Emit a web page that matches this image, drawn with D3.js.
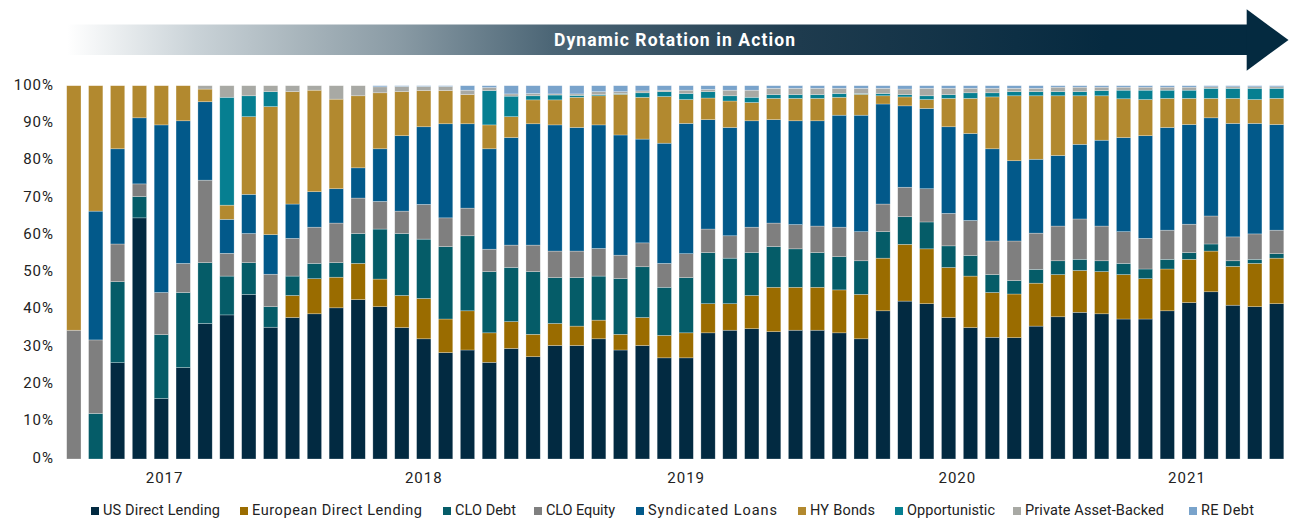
<!DOCTYPE html>
<html lang="en">
<head>
  <meta charset="utf-8">
  <title>Dynamic Rotation in Action</title>
  <script src="https://cdn.jsdelivr.net/npm/d3@7"></script>
  <style>
    body { margin: 0; background: #fff; }
    svg text { font-family: Roboto, "Open Sans", sans-serif; }
  </style>
</head>
<body>
  <svg id="chart" width="1295" height="519"></svg>

  <script>
    // monthly periods, Jan 2017 - Aug 2021
    const months = [
      "2017-01","2017-02","2017-03","2017-04","2017-05","2017-06","2017-07","2017-08","2017-09","2017-10","2017-11","2017-12",
      "2018-01","2018-02","2018-03","2018-04","2018-05","2018-06","2018-07","2018-08","2018-09","2018-10","2018-11","2018-12",
      "2019-01","2019-02","2019-03","2019-04","2019-05","2019-06","2019-07","2019-08","2019-09","2019-10","2019-11","2019-12",
      "2020-01","2020-02","2020-03","2020-04","2020-05","2020-06","2020-07","2020-08","2020-09","2020-10","2020-11","2020-12",
      "2021-01","2021-02","2021-03","2021-04","2021-05","2021-06","2021-07","2021-08"
    ]

    // allocation (%) per strategy
    const usDirect = [0,0,25.8,64.6,16.2,24.5,36.3,38.6,44.1,35.3,37.9,38.9,40.5,
      42.7,40.8,35.2,32.2,28.5,29.2,25.9,29.6,27.4,30.4,30.4,32.2,29.2,30.4,27.1,
      27.1,33.8,34.5,34.9,34.1,34.5,34.5,33.8,32.2,39.7,42.3,41.6,37.9,35.2,32.6,
      32.5,35.6,38.1,39.3,38.9,37.5,37.5,39.7,41.9,44.8,41.2,40.8,41.6]
    const european = [0,0,0,0,0,0,0,0,0,0,5.9,9.4,8.2,
      9.7,7.4,8.6,10.8,9.0,10.5,7.9,7.2,6.0,5.9,5.2,5.0,4.2,7.5,6.0,
      6.7,7.8,7.1,8.9,11.9,11.5,11.5,11.5,11.9,14.1,15.2,14.7,13.4,13.8,12.0,
      11.7,11.5,11.3,11.2,11.3,11.9,10.8,11.2,11.6,10.9,10.4,11.6,12.2]
    const cloDebt = [0,12.2,21.7,5.7,17.1,20.1,16.3,10.4,8.5,5.5,5.2,4.1,3.9,
      8.0,13.4,16.6,15.9,19.4,20.1,16.4,14.5,16.8,12.3,13.0,11.8,14.9,13.6,12.9,
      14.8,13.7,12.2,11.5,10.9,10.3,9.3,8.9,9.0,7.1,7.4,7.2,5.8,5.5,4.8,
      3.6,3.7,3.7,3.0,2.9,3.0,2.6,2.6,1.8,1.9,1.5,1.1,1.2]
    const cloEquity = [34.5,19.7,10.1,3.4,11.3,7.8,22.1,6.1,7.8,8.7,10.1,9.7,10.6,
      9.5,7.4,6.0,9.3,7.7,7.4,6.0,6.0,7.1,7.1,7.1,7.4,6.3,6.4,6.4,
      6.4,6.3,6.0,6.8,6.3,6.5,7.1,7.9,7.8,7.4,7.9,8.9,8.7,9.4,9.0,
      10.6,9.7,9.3,10.8,9.3,8.5,8.2,7.8,7.6,7.5,6.4,6.8,6.3]
    const syndicated = [0,34.5,25.5,17.7,44.9,38.2,21.0,9.1,10.5,10.6,9.2,9.5,9.2,
      8.1,14.1,20.2,20.8,25.2,22.6,26.9,28.8,32.5,33.8,33.1,33.1,32.2,27.8,32.2,
      34.9,29.3,29.0,28.5,27.7,27.8,28.2,30.0,31.2,26.8,21.8,21.5,23.2,23.3,24.7,
      21.5,19.8,18.9,20.0,23.0,25.2,27.5,27.5,26.7,26.3,30.4,29.6,28.3]
    const hyBonds = [65.5,33.6,16.9,8.6,10.5,9.4,3.4,3.8,20.8,34.3,30.1,27.2,24.0,
      19.3,15.0,11.8,9.7,8.9,7.8,6.4,5.6,6.4,6.7,8.1,7.8,10.9,11.2,12.5,
      6.4,5.8,7.1,4.9,5.7,6.0,6.0,4.8,5.6,2.2,2.4,2.4,7.6,9.4,13.9,
      17.4,17.0,16.0,13.0,11.9,10.4,9.7,7.8,7.0,5.2,6.7,6.4,7.0]
    const opportunistic = [0,0,0,0,0,0,0,28.9,5.6,4.0,0,0,0,
      0,0,0,0,0,0,9.2,5.5,1.1,1.3,0.5,0.3,0.2,1.2,1.3,
      1.6,1.7,1.4,1.4,1.0,1.0,1.0,1.0,0.2,0.6,0.6,1.0,1.0,1.5,1.1,
      1.1,1.1,1.1,1.1,1.4,2.3,2.5,2.2,2.2,2.7,2.7,3.0,2.7]
    const privateAB = [0,0,0,0,0,0,0.9,3.1,2.7,1.6,1.6,1.2,3.6,
      2.7,1.6,1.4,1.1,1.1,1.2,0.8,0.6,0.6,0.3,0.4,0.8,0.5,0.5,0.4,
      0.9,0.6,1.5,1.9,1.7,1.7,1.7,1.4,1.4,1.4,1.5,2.0,1.7,1.2,1.2,
      0.9,0.9,1.2,1.2,0.9,0.8,0.8,0.8,0.8,0.4,0.4,0.4,0.4]
    const reDebt = [0,0,0,0,0,0,0,0,0,0,0,0,0,
      0,0.3,0.2,0.2,0.2,1.2,0.5,2.2,2.1,2.2,2.2,1.6,1.6,1.4,1.2,
      1.2,1.0,1.2,1.2,0.7,0.7,0.7,0.7,0.7,0.7,0.9,0.7,0.7,0.7,0.7,
      0.7,0.7,0.4,0.4,0.4,0.4,0.4,0.4,0.4,0.3,0.3,0.3,0.3]

    const seriesNames = ["US Direct Lending", "European Direct Lending", "CLO Debt", "CLO Equity",
      "Syndicated Loans", "HY Bonds", "Opportunistic", "Private Asset-Backed", "RE Debt"]
    const seriesValues = [usDirect, european, cloDebt, cloEquity, syndicated, hyBonds, opportunistic, privateAB, reDebt]
    const seriesColors = ["#022a41", "#9a6c00", "#055c68", "#7f7f7f", "#02598a", "#b2892f", "#067f91", "#a8a9a4", "#79a3cb"]

    const yearLabels = ["2017", "2018", "2019", "2020", "2021"]
    const yearAt = [4.15, 16, 28, 40.4, 50.9] // in bar-index units

    let svg = d3.select("#chart")

    // rows for d3.stack
    let table = months.map((m, i) => {
      let row = { month: m }
      seriesNames.forEach((s, j) => { row[s] = seriesValues[j][i] })
      return row
    })

    let stacked = d3.stack()
      .keys(seriesNames)
      .offset(d3.stackOffsetExpand)(table)

    let x = d3.scaleBand()
      .domain(months)
      .range([66.7, 1283.8])
      .paddingInner(0.346)
      .paddingOuter(0)

    let y = d3.scaleLinear()
      .domain([0, 1])
      .range([459, 85.7])

    let color = d3.scaleOrdinal()
      .domain(seriesNames)
      .range(seriesColors)

    // header arrow
    let defs = svg.append("defs")
    let grad = defs.append("linearGradient")
      .attr("id", "arrowGrad")
      .attr("gradientUnits", "userSpaceOnUse")
      .attr("x1", 67).attr("x2", 1247)
      .attr("y1", 0).attr("y2", 0)
    let stops = [[0, "#ffffff"], [0.11, "#c9d2d7"], [0.2, "#a7b4bb"], [0.28, "#8a9ba5"],
      [0.41, "#4c6676"], [0.62, "#1e3b4e"], [0.88, "#062a40"], [1, "#042a40"]]
    grad.selectAll("stop")
      .data(stops)
      .join("stop")
      .attr("offset", d => d[0])
      .attr("stop-color", d => d[1])

    svg.append("rect")
      .attr("x", 67)
      .attr("y", 24.5)
      .attr("width", 1180.5)
      .attr("height", 30.5)
      .style("fill", "url(#arrowGrad)")

    svg.append("path")
      .attr("d", "M1246.7,9.3 L1288.5,40 L1246.7,70.7 Z")
      .style("fill", "#042a40")

    svg.append("text")
      .attr("x", 675)
      .attr("y", 41)
      .attr("text-anchor", "middle")
      .attr("dominant-baseline", "middle")
      .style("font-size", "17.5px")
      .style("font-weight", "bold")
      .style("letter-spacing", "1.1px")
      .style("fill", "#ffffff")
      .text("Dynamic Rotation in Action")

    // bars
    svg.append("g")
      .selectAll("g")
      .data(stacked)
      .join("g")
      .style("fill", d => color(d.key))
      .selectAll("rect")
      .data(d => d)
      .join("rect")
      .attr("x", d => x(d.data.month))
      .attr("y", d => y(d[1]))
      .attr("width", x.bandwidth())
      .attr("height", d => y(d[0]) - y(d[1]))
      .style("stroke", "rgba(255,255,255,0.45)")
      .style("stroke-width", "0.6px")

    // y axis
    let yAxis = svg.append("g")
      .attr("transform", "translate(56,-1.5)")
      .call(d3.axisLeft(y).ticks(10).tickFormat(d3.format(".0%")).tickSize(0).tickPadding(2))
    yAxis.select(".domain").remove()
    yAxis.selectAll("text")
      .style("font-family", "Roboto, sans-serif")
      .style("font-size", "15px")
      .style("letter-spacing", "1px")
      .style("fill", "#222")

    // year labels
    let xIdx = d3.scaleLinear()
      .domain([0, months.length - 1])
      .range([x(months[0]) + x.bandwidth() / 2, x(months[months.length - 1]) + x.bandwidth() / 2])

    svg.append("g")
      .selectAll("text")
      .data(yearLabels)
      .join("text")
      .attr("x", (d, i) => xIdx(yearAt[i]))
      .attr("y", 479)
      .attr("text-anchor", "middle")
      .attr("dominant-baseline", "middle")
      .style("font-size", "15px")
      .style("letter-spacing", "1px")
      .style("fill", "#222")
      .text(d => d)

    // legend
    let legendX = [91, 240, 443, 534, 636, 798, 895, 1013, 1189]
    let legendW = [117, 170, 61, 69, 129, 65, 88, 139, 53]
    let legend = svg.append("g")
      .selectAll("g")
      .data(seriesNames)
      .join("g")
      .attr("transform", (d, i) => `translate(${legendX[i]},511)`)

    legend.append("rect")
      .attr("x", 0)
      .attr("y", -4)
      .attr("width", 8)
      .attr("height", 8)
      .style("fill", d => color(d))

    legend.append("text")
      .attr("x", 12)
      .attr("y", 0.5)
      .attr("dominant-baseline", "middle")
      .attr("textLength", (d, i) => legendW[i])
      .attr("lengthAdjust", "spacing")
      .style("font-size", "14.5px")
      .style("fill", "#222")
      .text(d => d)
  </script>
</body>
</html>
